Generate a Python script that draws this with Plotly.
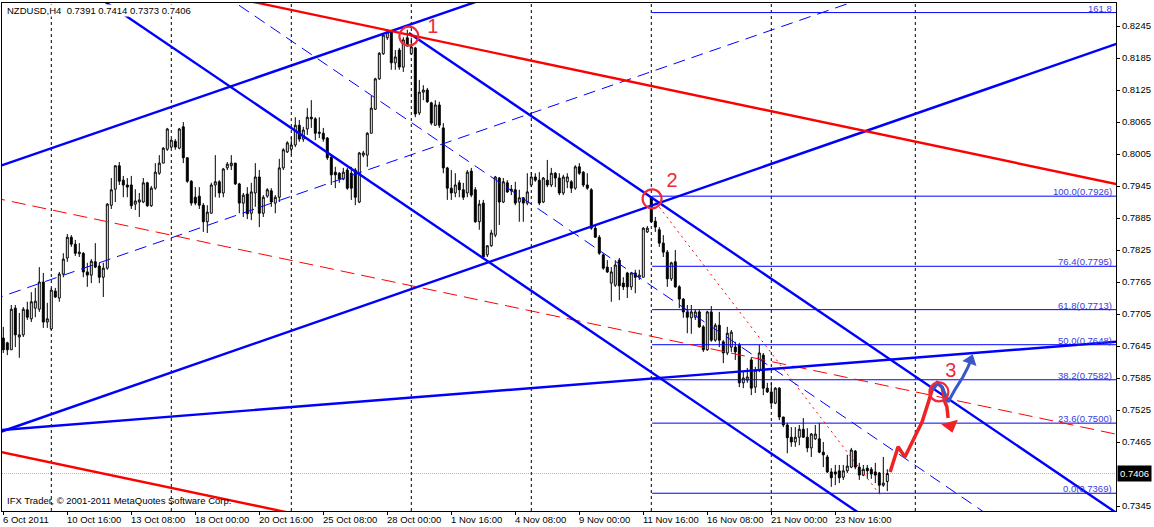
import plotly.graph_objects as go

# ---------------- data (NZDUSD H4, bar index 0 = 6 Oct 2011 00:00) ----------------
opens = [0.7660, 0.7651, 0.7638, 0.7716, 0.7662, 0.7666, 0.7713, 0.7696, 0.7716, 0.7714,
         0.7765, 0.7690, 0.7677, 0.7748, 0.7735, 0.7780, 0.7810, 0.7849, 0.7836, 0.7818,
         0.7819, 0.7784, 0.7778, 0.7803, 0.7795, 0.7774, 0.7791, 0.7909, 0.7939, 0.7983,
         0.7956, 0.7947, 0.7947, 0.7911, 0.7915, 0.7915, 0.7951, 0.7908, 0.7941, 0.7969,
         0.7988, 0.8014, 0.8018, 0.8029, 0.8016, 0.8056, 0.7998, 0.7954, 0.7924, 0.7926,
         0.7909, 0.7878, 0.7894, 0.7947, 0.7953, 0.7932, 0.7979, 0.7983, 0.7988, 0.7949,
         0.7913, 0.7930, 0.7894, 0.7932, 0.7962, 0.7894, 0.7926, 0.7936, 0.7913, 0.7924,
         0.7979, 0.8009, 0.8014, 0.8022, 0.8059, 0.8033, 0.8052, 0.8074, 0.8071, 0.8046,
         0.8044, 0.8035, 0.7999, 0.7971, 0.7969, 0.7958, 0.7975, 0.7969, 0.7975, 0.7915,
         0.8003, 0.8003, 0.8044, 0.8089, 0.8146, 0.8193, 0.8223, 0.8234, 0.8176, 0.8200,
         0.8168, 0.8223, 0.8193, 0.8204, 0.8082, 0.8121, 0.8125, 0.8101, 0.8059, 0.8097,
         0.8054, 0.7979, 0.7941, 0.7932, 0.7951, 0.7938, 0.7932, 0.7973, 0.7938, 0.7878,
         0.7913, 0.7816, 0.7833, 0.7853, 0.7960, 0.7915, 0.7951, 0.7939, 0.7938, 0.7915,
         0.7923, 0.7913, 0.7947, 0.7962, 0.7956, 0.7915, 0.7956, 0.7947, 0.7969, 0.7960,
         0.7932, 0.7953, 0.7953, 0.7941, 0.7981, 0.7971, 0.7947, 0.7938, 0.7866, 0.7849,
         0.7816, 0.7793, 0.7763, 0.7759, 0.7806, 0.7763, 0.7782, 0.7756, 0.7782, 0.7774,
         0.7774, 0.7859, 0.7923, 0.7879, 0.7863, 0.7838, 0.7821, 0.7771, 0.7803, 0.7756,
         0.7733, 0.7709, 0.7698, 0.7699, 0.7709, 0.7681, 0.7638, 0.7709, 0.7656, 0.7684,
         0.7653, 0.7632, 0.7643, 0.7643, 0.7647, 0.7576, 0.7581, 0.7619, 0.7568, 0.7600,
         0.7628, 0.7566, 0.7559, 0.7538, 0.7566, 0.7512, 0.7497, 0.7474, 0.7465, 0.7474,
         0.7489, 0.7474, 0.7454, 0.7471, 0.7471, 0.7446, 0.7437, 0.7409, 0.7409, 0.7411,
         0.7399, 0.7411, 0.7418, 0.7448, 0.7418, 0.7403, 0.7416, 0.7414, 0.7409, 0.7407,
         0.7384, 0.7391]
highs = [0.7681, 0.7653, 0.7722, 0.7722, 0.7707, 0.7718, 0.7728, 0.7746, 0.7754, 0.7793,
         0.7782, 0.7726, 0.7754, 0.7754, 0.7784, 0.7819, 0.7855, 0.7853, 0.7844, 0.7838,
         0.7821, 0.7801, 0.7808, 0.7838, 0.7801, 0.7801, 0.7913, 0.7960, 0.7984, 0.7990,
         0.7964, 0.7960, 0.7964, 0.7939, 0.7932, 0.7960, 0.7953, 0.7945, 0.7988, 0.8003,
         0.8018, 0.8054, 0.8033, 0.8033, 0.8054, 0.8065, 0.7999, 0.7956, 0.7943, 0.7943,
         0.7913, 0.7909, 0.7951, 0.8003, 0.7956, 0.7979, 0.7990, 0.8003, 0.7988, 0.7951,
         0.7932, 0.7943, 0.7951, 0.7988, 0.7975, 0.7928, 0.7941, 0.7941, 0.7928, 0.7996,
         0.8016, 0.8029, 0.8037, 0.8074, 0.8069, 0.8056, 0.8091, 0.8106, 0.8074, 0.8074,
         0.8054, 0.8037, 0.8003, 0.7981, 0.7971, 0.7979, 0.7979, 0.7981, 0.7979, 0.8009,
         0.8011, 0.8046, 0.8114, 0.8148, 0.8196, 0.8230, 0.8238, 0.8236, 0.8200, 0.8204,
         0.8224, 0.8238, 0.8223, 0.8206, 0.8144, 0.8134, 0.8129, 0.8103, 0.8106, 0.8103,
         0.8063, 0.7981, 0.7975, 0.7969, 0.7956, 0.7951, 0.7975, 0.7979, 0.7943, 0.7919,
         0.7919, 0.7834, 0.7863, 0.7964, 0.7962, 0.7960, 0.7956, 0.7947, 0.7953, 0.7938,
         0.7924, 0.7969, 0.7971, 0.7969, 0.7971, 0.7962, 0.7994, 0.7979, 0.7971, 0.7969,
         0.7966, 0.7969, 0.7956, 0.7984, 0.7988, 0.7973, 0.7969, 0.7941, 0.7872, 0.7853,
         0.7819, 0.7806, 0.7793, 0.7806, 0.7810, 0.7774, 0.7784, 0.7784, 0.7788, 0.7788,
         0.7868, 0.7870, 0.7926, 0.7887, 0.7868, 0.7853, 0.7825, 0.7803, 0.7825, 0.7759,
         0.7735, 0.7722, 0.7722, 0.7713, 0.7713, 0.7684, 0.7711, 0.7720, 0.7688, 0.7709,
         0.7656, 0.7681, 0.7675, 0.7653, 0.7651, 0.7596, 0.7604, 0.7624, 0.7606, 0.7647,
         0.7632, 0.7576, 0.7576, 0.7568, 0.7568, 0.7512, 0.7501, 0.7493, 0.7493, 0.7497,
         0.7510, 0.7491, 0.7482, 0.7497, 0.7501, 0.7465, 0.7441, 0.7416, 0.7422, 0.7422,
         0.7422, 0.7441, 0.7454, 0.7450, 0.7426, 0.7422, 0.7422, 0.7418, 0.7426, 0.7409,
         0.7437, 0.7414]
lows = [0.7632, 0.7628, 0.7638, 0.7643, 0.7623, 0.7662, 0.7694, 0.7690, 0.7699, 0.7709,
        0.7679, 0.7679, 0.7675, 0.7735, 0.7728, 0.7774, 0.7803, 0.7831, 0.7814, 0.7812,
        0.7774, 0.7756, 0.7763, 0.7791, 0.7763, 0.7737, 0.7788, 0.7902, 0.7915, 0.7947,
        0.7924, 0.7924, 0.7902, 0.7900, 0.7887, 0.7913, 0.7906, 0.7906, 0.7938, 0.7966,
        0.7988, 0.8011, 0.8016, 0.8013, 0.8014, 0.7988, 0.7951, 0.7908, 0.7909, 0.7902,
        0.7859, 0.7857, 0.7894, 0.7924, 0.7923, 0.7924, 0.7975, 0.7975, 0.7947, 0.7894,
        0.7887, 0.7883, 0.7881, 0.7906, 0.7868, 0.7887, 0.7923, 0.7906, 0.7894, 0.7915,
        0.7975, 0.8007, 0.8003, 0.8018, 0.8028, 0.8028, 0.8041, 0.8054, 0.8031, 0.8035,
        0.8028, 0.7994, 0.7947, 0.7941, 0.7951, 0.7956, 0.7938, 0.7919, 0.7909, 0.7913,
        0.7999, 0.7981, 0.8044, 0.8088, 0.8144, 0.8191, 0.8219, 0.8163, 0.8163, 0.8163,
        0.8159, 0.8206, 0.8191, 0.8074, 0.8078, 0.8106, 0.8101, 0.8059, 0.8058, 0.8054,
        0.7969, 0.7919, 0.7919, 0.7924, 0.7924, 0.7919, 0.7924, 0.7924, 0.7876, 0.7863,
        0.7810, 0.7812, 0.7831, 0.7849, 0.7872, 0.7913, 0.7932, 0.7928, 0.7909, 0.7878,
        0.7878, 0.7909, 0.7943, 0.7953, 0.7909, 0.7913, 0.7943, 0.7943, 0.7943, 0.7928,
        0.7928, 0.7941, 0.7932, 0.7938, 0.7966, 0.7943, 0.7938, 0.7863, 0.7848, 0.7816,
        0.7788, 0.7782, 0.7728, 0.7756, 0.7731, 0.7750, 0.7735, 0.7750, 0.7744, 0.7769,
        0.7774, 0.7857, 0.7876, 0.7859, 0.7831, 0.7812, 0.7756, 0.7767, 0.7754, 0.7716,
        0.7698, 0.7669, 0.7668, 0.7694, 0.7679, 0.7634, 0.7636, 0.7653, 0.7653, 0.7643,
        0.7613, 0.7628, 0.7634, 0.7619, 0.7568, 0.7566, 0.7576, 0.7553, 0.7557, 0.7596,
        0.7553, 0.7557, 0.7531, 0.7536, 0.7506, 0.7493, 0.7444, 0.7456, 0.7456, 0.7459,
        0.7473, 0.7446, 0.7437, 0.7469, 0.7444, 0.7418, 0.7407, 0.7381, 0.7384, 0.7388,
        0.7394, 0.7407, 0.7416, 0.7414, 0.7394, 0.7401, 0.7396, 0.7396, 0.7388, 0.7369,
        0.7381, 0.7373]
closes = [0.7638, 0.7638, 0.7714, 0.7666, 0.7666, 0.7714, 0.7699, 0.7728, 0.7729, 0.7765,
          0.7690, 0.7696, 0.7750, 0.7737, 0.7780, 0.7808, 0.7849, 0.7836, 0.7819, 0.7821,
          0.7784, 0.7778, 0.7804, 0.7793, 0.7774, 0.7791, 0.7911, 0.7938, 0.7983, 0.7954,
          0.7947, 0.7943, 0.7908, 0.7917, 0.7919, 0.7951, 0.7908, 0.7941, 0.7971, 0.7988,
          0.8016, 0.8052, 0.8031, 0.8018, 0.8052, 0.7998, 0.7954, 0.7913, 0.7913, 0.7909,
          0.7878, 0.7896, 0.7947, 0.7953, 0.7932, 0.7977, 0.7986, 0.7988, 0.7949, 0.7913,
          0.7928, 0.7893, 0.7934, 0.7962, 0.7894, 0.7924, 0.7938, 0.7915, 0.7924, 0.7979,
          0.8013, 0.8026, 0.8022, 0.8059, 0.8033, 0.8050, 0.8074, 0.8071, 0.8044, 0.8044,
          0.8033, 0.7998, 0.7966, 0.7966, 0.7958, 0.7971, 0.7941, 0.7941, 0.7924, 0.8007,
          0.8007, 0.8044, 0.8091, 0.8146, 0.8194, 0.8228, 0.8234, 0.8176, 0.8187, 0.8168,
          0.8219, 0.8208, 0.8206, 0.8080, 0.8121, 0.8125, 0.8103, 0.8063, 0.8097, 0.8059,
          0.7979, 0.7941, 0.7932, 0.7947, 0.7938, 0.7924, 0.7971, 0.7928, 0.7878, 0.7911,
          0.7812, 0.7833, 0.7857, 0.7962, 0.7915, 0.7953, 0.7934, 0.7936, 0.7913, 0.7923,
          0.7913, 0.7934, 0.7962, 0.7956, 0.7913, 0.7960, 0.7947, 0.7969, 0.7960, 0.7932,
          0.7962, 0.7962, 0.7941, 0.7981, 0.7969, 0.7947, 0.7941, 0.7866, 0.7849, 0.7819,
          0.7791, 0.7784, 0.7784, 0.7797, 0.7758, 0.7756, 0.7756, 0.7782, 0.7774, 0.7778,
          0.7866, 0.7866, 0.7878, 0.7868, 0.7838, 0.7821, 0.7771, 0.7801, 0.7756, 0.7733,
          0.7709, 0.7699, 0.7709, 0.7709, 0.7681, 0.7638, 0.7709, 0.7656, 0.7684, 0.7656,
          0.7632, 0.7669, 0.7671, 0.7634, 0.7576, 0.7585, 0.7587, 0.7566, 0.7600, 0.7632,
          0.7566, 0.7559, 0.7538, 0.7566, 0.7512, 0.7497, 0.7473, 0.7465, 0.7474, 0.7489,
          0.7474, 0.7454, 0.7480, 0.7480, 0.7446, 0.7441, 0.7409, 0.7398, 0.7405, 0.7398,
          0.7411, 0.7420, 0.7450, 0.7418, 0.7403, 0.7414, 0.7411, 0.7405, 0.7403, 0.7384,
          0.7388, 0.7406]
bars = list(range(len(opens)))

x_label_bars = [0, 16, 32, 48, 64, 80, 96, 112, 128, 144, 160, 176, 192, 208]
x_labels = ["6 Oct 2011", "10 Oct 16:00", "13 Oct 08:00", "18 Oct 00:00", "20 Oct 16:00",
            "25 Oct 08:00", "28 Oct 00:00", "1 Nov 16:00", "4 Nov 08:00", "9 Nov 00:00",
            "11 Nov 16:00", "16 Nov 08:00", "21 Nov 00:00", "23 Nov 16:00"]
week_grid_bars = [12, 42, 72, 102, 132, 162, 192, 228]
y_ticks = [0.8245, 0.8185, 0.8125, 0.8065, 0.8005, 0.7945, 0.7885, 0.7825, 0.7765,
           0.7705, 0.7645, 0.7585, 0.7525, 0.7465, 0.7345]
bid_price = 0.7406
title_text = "NZDUSD,H4  0.7391 0.7414 0.7373 0.7406"
copyright_text = "IFX Trader, \u00a9 2001-2011 MetaQuotes Software Corp."

# Fibonacci retracement (point 2 high -> swing low)
fib_high, fib_low, fib_start_bar = 0.7926, 0.7369, 162.2
fib_ratios = [1.618, 1.0, 0.764, 0.618, 0.5, 0.382, 0.236, 0.0]
fib_labels = ["161.8", "100.0(0.7926)", "76.4(0.7795)", "61.8(0.7713)", "50.0(0.7648)",
              "38.2(0.7582)", "23.6(0.7500)", "0.0(0.7369)"]

# Trend-line objects: (bar, price) anchors
thick_blue_lines = {
    "rising_channel_top": ([-3, 130], [0.7977, 0.8321]),
    "rising_channel_bottom": ([-3, 285], [0.7478, 0.8229]),
    "shallow_support": ([-3, 285], [0.7486, 0.7657]),
    "falling_channel_bottom": ([22, 220], [0.8308, 0.7301]),
    "falling_channel_top": ([101.4, 285], [0.8232, 0.7298]),
}
dashed_blue_lines = {
    "rising_median": ([-3, 230], [0.7731, 0.8336]),
    "falling_median": ([55, 250], [0.8304, 0.7309]),
}
thick_red_lines = {
    "upper_red": ([55, 285], [0.8302, 0.7938]),
    "lower_red": ([-3, 80], [0.7450, 0.7319]),
}
dashed_red_line = ([-3, 285], [0.7924, 0.7469])
dotted_red_line = ([162.2, 219.5], [0.7923, 0.7363])

pivot_bars = [101.4, 162.2, 233.9]
pivot_prices = [0.8226, 0.7921, 0.7559]
pivot_names = ["1", "2", "3"]
pivot_label_bars = [107.4, 167.2, 236.9]
pivot_label_prices = [0.8242, 0.7952, 0.7596]

# hand-drawn scenario arrows
red_path_bars = [221.7, 222.4, 223.7, 225.4, 227.9, 229.7, 231.2, 232.2, 233.4, 234.7, 235.4, 235.9, 236.2]
red_path_prices = [0.7409, 0.7426, 0.7456, 0.7437, 0.7474, 0.7503, 0.7538, 0.7563, 0.7576, 0.7568, 0.7540, 0.7531, 0.7510]
red_head = (236.8, 0.7496)
blue_path_bars = [232.4, 233.7, 234.9, 236.2, 237.9, 239.9, 241.2, 241.9]
blue_path_prices = [0.7563, 0.7576, 0.7566, 0.7540, 0.7563, 0.7587, 0.7606, 0.7619]
blue_head = (241.8, 0.7618)

# ---------------- figure ----------------
FONT = "Liberation Sans, Arial, sans-serif"
BLUE = "#0000FF"
RED = "#FF0000"
X_RANGE = [-0.325, 278.175]
Y_RANGE = [0.73357, 0.82882]

fig = go.Figure()

fig.add_trace(go.Candlestick(
    x=bars, open=opens, high=highs, low=lows, close=closes,
    increasing=dict(line=dict(color="black", width=1), fillcolor="white"),
    decreasing=dict(line=dict(color="black", width=1), fillcolor="black"),
    whiskerwidth=0, showlegend=False, hoverinfo="none"))

def add_line(xs, ys, color, width, dash="solid"):
    fig.add_trace(go.Scatter(x=xs, y=ys, mode="lines", showlegend=False, hoverinfo="skip",
                             line=dict(color=color, width=width, dash=dash)))

# fib levels
for r in fib_ratios:
    lvl = fib_low + (fib_high - fib_low) * r
    add_line([fib_start_bar, 300], [lvl, lvl], BLUE, 1)

for xs, ys in dashed_blue_lines.values():
    add_line(xs, ys, BLUE, 1, "12px,7px")
add_line(*dashed_red_line, RED, 1, "14px,7px")
add_line(*dotted_red_line, RED, 1, "2px,4px")
for xs, ys in thick_blue_lines.values():
    add_line(xs, ys, BLUE, 2.4)
for xs, ys in thick_red_lines.values():
    add_line(xs, ys, RED, 2.4)

# scenario paths
add_line(red_path_bars, red_path_prices, "#EE2424", 3.5)
add_line(blue_path_bars, blue_path_prices, "#3A56C8", 3)
fig.add_trace(go.Scatter(x=[red_head[0]], y=[red_head[1]], mode="markers", showlegend=False,
                         hoverinfo="skip",
                         marker=dict(symbol="triangle-down", size=15, angle=-15, color="#EE2424")))
fig.add_trace(go.Scatter(x=[blue_head[0]], y=[blue_head[1]], mode="markers", showlegend=False,
                         hoverinfo="skip",
                         marker=dict(symbol="triangle-up", size=13, angle=20, color="#3A56C8")))

# pivot circles and numbers
fig.add_trace(go.Scatter(x=pivot_bars, y=pivot_prices, mode="markers", showlegend=False,
                         hoverinfo="skip",
                         marker=dict(symbol="circle-open", size=19, color="#EE2A3A",
                                     line=dict(width=2.2, color="#EE2A3A"))))
fig.add_trace(go.Scatter(x=pivot_label_bars, y=pivot_label_prices, mode="text", showlegend=False,
                         hoverinfo="skip", text=pivot_names,
                         textfont=dict(family=FONT, size=20, color="#EE2A3A")))

shapes = []
for b in week_grid_bars:
    shapes.append(dict(type="line", xref="x", yref="paper", x0=b, x1=b, y0=0, y1=1,
                       line=dict(color="black", width=1, dash="3px,3px"), layer="below"))
shapes.append(dict(type="line", xref="paper", yref="y", x0=0, x1=1, y0=bid_price, y1=bid_price,
                   line=dict(color="#B8B8B8", width=1, dash="1px,1px"), layer="below"))

annotations = []
for b, t in zip(x_label_bars, x_labels):
    annotations.append(dict(x=b, y=0, xref="x", yref="paper", text=t, showarrow=False,
                            xanchor="left", yanchor="top", xshift=-2, yshift=-1,
                            font=dict(family=FONT, size=9.5, color="black")))
for r, t in zip(fib_ratios, fib_labels):
    lvl = fib_low + (fib_high - fib_low) * r
    annotations.append(dict(x=0.9975, y=lvl, xref="paper", yref="y", text=t, showarrow=False,
                            xanchor="right", yanchor="bottom", yshift=-2, borderpad=0,
                            font=dict(family=FONT, size=9.5, color="#3C3CDC")))
annotations.append(dict(x=0.004, y=1, xref="paper", yref="paper", text=title_text,
                        showarrow=False, xanchor="left", yanchor="top", yshift=-1,
                        bgcolor="white", borderpad=0,
                        font=dict(family=FONT, size=9.5, color="black")))
annotations.append(dict(x=0.003, y=0.004, xref="paper", yref="paper", text=copyright_text,
                        showarrow=False, xanchor="left", yanchor="bottom", yshift=1,
                        font=dict(family=FONT, size=9.5, color="black")))
annotations.append(dict(x=1, y=bid_price, xref="paper", yref="y", text=f"{bid_price:.4f}",
                        showarrow=False, xanchor="left", yanchor="middle", xshift=1,
                        bgcolor="black", borderpad=2,
                        font=dict(family=FONT, size=9.5, color="white")))

fig.update_layout(
    width=1154, height=527,
    margin=dict(l=2, r=38, t=3, b=16, autoexpand=False),
    paper_bgcolor="white", plot_bgcolor="white",
    showlegend=False, hovermode=False,
    shapes=shapes, annotations=annotations,
    xaxis=dict(range=X_RANGE, rangeslider=dict(visible=False), showgrid=False, zeroline=False,
               showline=True, linecolor="black", linewidth=1, mirror=True,
               ticks="outside", ticklen=3, tickcolor="black", tickvals=x_label_bars,
               showticklabels=False, automargin=False, fixedrange=True),
    yaxis=dict(range=Y_RANGE, side="right", showgrid=False, zeroline=False,
               showline=True, linecolor="black", linewidth=1, mirror=True,
               ticks="outside", ticklen=3, tickcolor="black",
               tickvals=y_ticks, ticktext=[f"{v:.4f}" for v in y_ticks],
               tickfont=dict(family=FONT, size=9.5, color="black"),
               automargin=False, fixedrange=True),
)

fig.write_html("out.html", config={"displayModeBar": False},
               post_script="document.body.style.margin='0';document.body.style.overflow='hidden';")
